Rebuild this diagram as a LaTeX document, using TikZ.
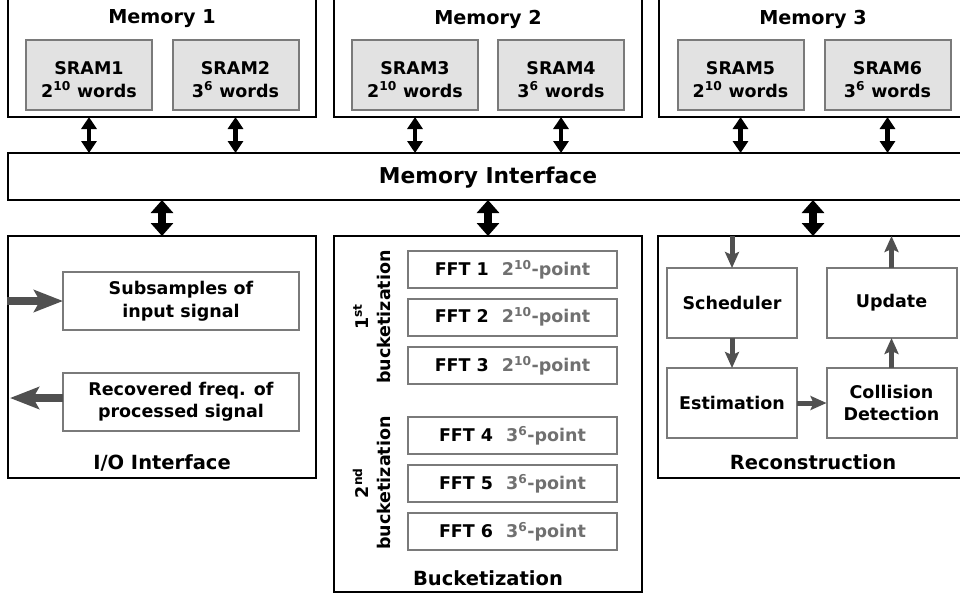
\documentclass[tikz,border=0pt]{standalone}
\usepackage{fontspec}
\setmainfont{DejaVu Sans}
\usetikzlibrary{arrows.meta}

\definecolor{innerline}{HTML}{7A7A7A}
\definecolor{sramfill}{HTML}{E2E2E2}
\definecolor{flowgray}{HTML}{505050}
\definecolor{softtext}{HTML}{707070}

\newcommand{\fftlabel}[2]{FFT #1\hspace{13pt}\textcolor{softtext}{#2-point}}
% two-line SRAM label, a little lower in its box
\newcommand{\sramlabel}[2]{\rule{0pt}{22pt}SRAM#1\\#2 words}

\begin{document}
\begin{tikzpicture}[x=1pt,y=-1pt,
  every node/.style={inner sep=0pt, outer sep=0pt, align=center,
    font=\bfseries\fontsize{17.5}{22.5}\selectfont},
  blockbox/.style={draw=black, line width=2pt, rectangle},
  subbox/.style={draw=innerline, line width=2pt, rectangle, fill=white},
  srambox/.style={draw=innerline, line width=2pt, rectangle, fill=sramfill,
    minimum width=126pt, minimum height=70pt},
  fftbox/.style={subbox, minimum width=209pt, minimum height=37pt},
  recbox/.style={subbox, minimum width=130pt, minimum height=70pt},
  iobox/.style={subbox, minimum width=236pt, minimum height=58pt},
  memtitle/.style={font=\bfseries\fontsize{19.2}{22}\selectfont},
  blocklabel/.style={font=\bfseries\fontsize{19.5}{22}\selectfont},
  busthin/.style={line width=4.5pt, {Triangle[width=15pt,length=12pt]}-{Triangle[width=15pt,length=12pt]}},
  busthick/.style={line width=8pt, {Triangle[width=22pt,length=13pt]}-{Triangle[width=22pt,length=13pt]}},
  bigflow/.style={draw=flowgray, line width=8pt, -{Stealth[width=22pt,length=29pt,inset=6pt]}},
  smallflow/.style={draw=flowgray, line width=5pt, -{Stealth[width=14pt,length=16pt,inset=3pt]}}
]
\useasboundingbox (0,0) rectangle (960,598);

% ---------- memories ----------
\node[blockbox, minimum width=308pt, minimum height=122pt] (m1) at (162,56) {};
\node[blockbox, minimum width=308pt, minimum height=122pt] (m2) at (488,56) {};
\node[blockbox, minimum width=308pt, minimum height=122pt] (m3) at (813,56) {};
\node[memtitle] (m1t) at (162,19) {Memory 1};
\node[memtitle] (m2t) at (488,19) {Memory 2};
\node[memtitle] (m3t) at (813,19) {Memory 3};

\node[srambox] (s1) at (89,75)    {\sramlabel{1}{2\textsuperscript{10}}};
\node[srambox] (s2) at (235.5,75) {\sramlabel{2}{3\textsuperscript{6}}};
\node[srambox] (s3) at (415,75)   {\sramlabel{3}{2\textsuperscript{10}}};
\node[srambox] (s4) at (561,75)   {\sramlabel{4}{3\textsuperscript{6}}};
\node[srambox] (s5) at (740.5,75) {\sramlabel{5}{2\textsuperscript{10}}};
\node[srambox] (s6) at (887.5,75) {\sramlabel{6}{3\textsuperscript{6}}};

% ---------- memory interface ----------
\node[blockbox, minimum width=964pt, minimum height=47pt] (mi) at (490,176.5) {};
\node[font=\bfseries\fontsize{21.8}{24}\selectfont] (mit) at (488,178) {Memory Interface};

% ---------- lower blocks ----------
\node[blockbox, minimum width=308pt, minimum height=242pt] (io) at (162,357) {};
\node[blockbox, minimum width=308pt, minimum height=356pt] (bk) at (488,414) {};
\node[blockbox, minimum width=310pt, minimum height=242pt] (rc) at (813,357) {};

% ---------- memory buses ----------
\foreach \s/\m in {s1/m1, s2/m1, s3/m2, s4/m2, s5/m3, s6/m3}
  \draw[busthin] (\s |- \m.south) -- (\s |- mi.north);
\draw[busthick] (io.north |- mi.south) -- (io.north);
\draw[busthick] (bk.north |- mi.south) -- (bk.north);
\draw[busthick] (rc.north |- mi.south) -- (rc.north);

% ---------- I/O interface ----------
\node[iobox] (sub) at (181,301)   {Subsamples of\\input signal};
\node[iobox] (rec) at (181,401.5) {Recovered freq. of\\processed signal};
\node[blocklabel] (iot) at (162,463) {I/O Interface};
\coordinate (inS)  at (7,301);
\coordinate (outE) at (10,398);
\draw[bigflow] (inS) -- (inS -| sub.west);
\draw[bigflow] (outE -| rec.west) -- (outE);

% ---------- bucketization ----------
\node[fftbox] (f1) at (512.5,269.5) {\fftlabel{1}{2\textsuperscript{10}}};
\node[fftbox] (f2) at (512.5,317)   {\fftlabel{2}{2\textsuperscript{10}}};
\node[fftbox] (f3) at (512.5,365.5) {\fftlabel{3}{2\textsuperscript{10}}};
\node[fftbox] (f4) at (512.5,435.5) {\fftlabel{4}{3\textsuperscript{6}}};
\node[fftbox] (f5) at (512.5,483.5) {\fftlabel{5}{3\textsuperscript{6}}};
\node[fftbox] (f6) at (512.5,531.5) {\fftlabel{6}{3\textsuperscript{6}}};
\node[rotate=90] (b1) at (372,317) {1\textsuperscript{st}\\bucketization};
\node[rotate=90] (b2) at (372,483) {2\textsuperscript{nd}\\bucketization};
\node[blocklabel] (bkt) at (488,578) {Bucketization};

% ---------- reconstruction ----------
\node[recbox] (sch) at (732,303)   {Scheduler};
\node[recbox] (upd) at (891.5,303) {Update};
\node[recbox] (est) at (732,403)   {Estimation};
\node[recbox] (col) at (891.5,403) {Collision\\Detection};
\node[blocklabel] (rct) at (813,462) {Reconstruction};
\draw[smallflow] (sch.north |- rc.north) -- (sch.north);
\draw[smallflow] (sch) -- (est);
\draw[smallflow] (est) -- (col);
\draw[smallflow] (col) -- (upd);
\draw[smallflow] (upd.north) -- (upd.north |- rc.north);
\end{tikzpicture}
\end{document}
